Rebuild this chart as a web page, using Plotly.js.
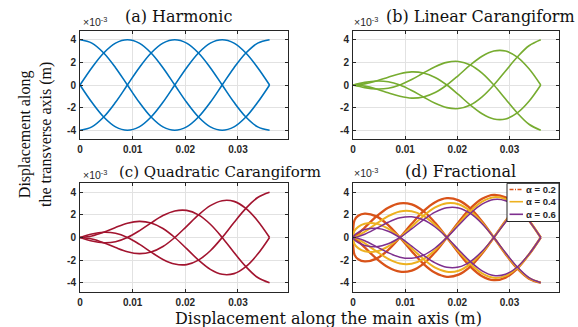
<!DOCTYPE html>
<html><head><meta charset="utf-8">
<script src="https://cdn.plot.ly/plotly-3.0.1.min.js"></script>
<style>html,body{margin:0;padding:0;background:#fff}#chart{width:578px;height:327px}</style>
</head><body><div id="chart"></div>
<script>
// x positions along the main axis (m)
const xMain = [0,0.00225,0.0045,0.00675,0.009,0.01125,0.0135,0.01575,0.018,0.02025,0.0225,0.02475,0.027,0.02925,0.0315,0.03375,0.036];
const xFrac = [0,0.0003,0.001,0.00225,0.0045,0.00675,0.009,0.01125,0.0135,0.01575,0.018,0.02025,0.0225,0.02475,0.027,0.02925,0.0315,0.03375,0.036];

// transverse displacement, in units of 1e-3 m
// (a) Harmonic
const harmonicA = [4,3.70,2.83,1.53,0,-1.53,-2.83,-3.70,-4,-3.70,-2.83,-1.53,0,1.53,2.83,3.70,4];
const harmonicB = [0,1.53,2.83,3.70,4,3.70,2.83,1.53,0,-1.53,-2.83,-3.70,-4,-3.70,-2.83,-1.53,0];
const harmonicC = [0,-1.53,-2.83,-3.70,-4,-3.70,-2.83,-1.53,0,1.53,2.83,3.70,4,3.70,2.83,1.53,0];
const harmonicD = [-4,-3.70,-2.83,-1.53,0,1.53,2.83,3.70,4,3.70,2.83,1.53,0,-1.53,-2.83,-3.70,-4];
// (b) Linear Carangiform
const linearA = [0,0.23,0.35,0.29,0,-0.48,-1.06,-1.62,-2,-2.08,-1.77,-1.05,0,1.24,2.47,3.47,4];
const linearB = [0,0.10,0.35,0.69,1,1.16,1.06,0.67,0,-0.86,-1.77,-2.54,-3,-3.00,-2.47,-1.44,0];
const linearC = [0,-0.10,-0.35,-0.69,-1,-1.16,-1.06,-0.67,0,0.86,1.77,2.54,3,3.00,2.47,1.44,0];
const linearD = [0,-0.23,-0.35,-0.29,0,0.48,1.06,1.62,2,2.08,1.77,1.05,0,-1.24,-2.47,-3.47,-4];
// (c) Quadratic Carangiform
const quadA = [0,0.31,0.46,0.37,0,-0.59,-1.29,-1.94,-2.35,-2.40,-2.00,-1.17,0,1.33,2.58,3.54,4];
const quadB = [0,0.13,0.46,0.89,1.26,1.43,1.29,0.80,0,-0.99,-2.00,-2.82,-3.26,-3.20,-2.58,-1.47,0];
const quadC = [0,-0.13,-0.46,-0.89,-1.26,-1.43,-1.29,-0.80,0,0.99,2.00,2.82,3.26,3.20,2.58,1.47,0];
const quadD = [0,-0.31,-0.46,-0.37,0,0.59,1.29,1.94,2.35,2.40,2.00,1.17,0,-1.33,-2.58,-3.54,-4];
// (d) Fractional, alpha = 0.2
const frac02A = [0,1.54,1.92,2.12,1.87,1.10,0,-1.21,-2.33,-3.13,-3.48,-3.29,-2.58,-1.42,0,1.47,2.75,3.65,4];
const frac02B = [0,0.08,0.34,0.88,1.87,2.64,3.03,2.93,2.33,1.30,0,-1.36,-2.58,-3.43,-3.78,-3.55,-2.75,-1.51,0];
const frac02C = [0,-0.08,-0.34,-0.88,-1.87,-2.64,-3.03,-2.93,-2.33,-1.30,0,1.36,2.58,3.43,3.78,3.55,2.75,1.51,0];
const frac02D = [0,-1.54,-1.92,-2.12,-1.87,-1.10,0,1.21,2.33,3.13,3.48,3.29,2.58,1.42,0,-1.47,-2.75,-3.65,-4];
// alpha = 0.4
const frac04A = [0,0.59,0.94,1.22,1.23,0.78,0,-0.96,-1.91,-2.66,-3.03,-2.94,-2.34,-1.32,0,1.41,2.68,3.60,4];
const frac04B = [0,0.03,0.17,0.51,1.23,1.89,2.30,2.32,1.91,1.10,0,-1.22,-2.34,-3.18,-3.57,-3.40,-2.68,-1.49,0];
const frac04C = [0,-0.03,-0.17,-0.51,-1.23,-1.89,-2.30,-2.32,-1.91,-1.10,0,1.22,2.34,3.18,3.57,3.40,2.68,1.49,0];
const frac04D = [0,-0.59,-0.94,-1.22,-1.23,-0.78,0,0.96,1.91,2.66,3.03,2.94,2.34,1.32,0,-1.41,-2.68,-3.60,-4];
// alpha = 0.6
const frac06A = [0,0.23,0.46,0.70,0.81,0.56,0,-0.76,-1.57,-2.25,-2.64,-2.62,-2.13,-1.22,0,1.35,2.61,3.56,4];
const frac06B = [0,0.01,0.08,0.29,0.81,1.35,1.74,1.84,1.57,0.93,0,-1.08,-2.13,-2.95,-3.37,-3.26,-2.61,-1.47,0];
const frac06C = [0,-0.01,-0.08,-0.29,-0.81,-1.35,-1.74,-1.84,-1.57,-0.93,0,1.08,2.13,2.95,3.37,3.26,2.61,1.47,0];
const frac06D = [0,-0.23,-0.46,-0.70,-0.81,-0.56,0,0.76,1.57,2.25,2.64,2.62,2.13,1.22,0,-1.35,-2.61,-3.56,-4];

const panelTitles = ['(a) Harmonic','(b) Linear Carangiform','(c) Quadratic Carangiform','(d) Fractional'];
const legendLabels = ['\u03b1 = 0.2','\u03b1 = 0.4','\u03b1 = 0.6'];
const xTickVals = [0,0.01,0.02,0.03];
const xTickText = ['0','0.01','0.02','0.03'];
const yTickVals = [-4,-2,0,2,4];
const yTickText = ['-4','-2','0','2','4'];

const cBlue='#0072BD', cGreen='#77AC30', cRed='#A2142F', cOrange='#D95319', cYellow='#EDB120', cPurple='#7E2F8E';

function tr(x,y,n,color,w,name){
  return {x:x,y:y,type:'scatter',mode:'lines',xaxis:'x'+(n===1?'':n),yaxis:'y'+(n===1?'':n),
    line:{color:color,width:w,shape:'spline',smoothing:1},showlegend:false,hoverinfo:'skip',name:name||''};
}
const data = [];
[harmonicA,harmonicB,harmonicC,harmonicD].forEach(s=>data.push(tr(xMain,s,1,cBlue,1.6)));
[linearA,linearB,linearC,linearD].forEach(s=>data.push(tr(xMain,s,2,cGreen,1.6)));
[quadA,quadB,quadC,quadD].forEach(s=>data.push(tr(xMain,s,3,cRed,1.6)));
[frac02A,frac02B,frac02C,frac02D].forEach(s=>data.push(tr(xFrac,s,4,cOrange,2.3,legendLabels[0])));
[frac04A,frac04B,frac04C,frac04D].forEach(s=>data.push(tr(xFrac,s,4,cYellow,2.0,legendLabels[1])));
[frac06A,frac06B,frac06C,frac06D].forEach(s=>data.push(tr(xFrac,s,4,cPurple,1.5,legendLabels[2])));

const W=578,H=327;
const px=v=>v/W, py=v=>1-v/H;
const tickFont={family:'Liberation Sans, Arial, sans-serif',size:10,color:'#262626',weight:'bold'};
function xa(dom,anchor){
  return {domain:dom,anchor:anchor,range:[0,0.0395],tickvals:xTickVals,ticktext:xTickText,
    showline:true,mirror:'ticks',linecolor:'#262626',linewidth:1,ticks:'inside',ticklen:3,tickcolor:'#262626',
    showgrid:true,gridcolor:'#e2e2e2',gridwidth:1,zeroline:false,tickfont:tickFont,ticklabelstandoff:1,fixedrange:true};
}
function ya(dom,anchor){
  return {domain:dom,anchor:anchor,range:[-4.8,4.8],tickvals:yTickVals,ticktext:yTickText,
    showline:true,mirror:'ticks',linecolor:'#262626',linewidth:1,ticks:'inside',ticklen:3,tickcolor:'#262626',
    showgrid:true,gridcolor:'#e2e2e2',gridwidth:1,zeroline:false,tickfont:tickFont,ticklabelstandoff:1,fixedrange:true};
}
const colL=[px(80),px(288)], colR=[px(353),px(559)];
const rowT=[py(139.3),py(30.7)], rowB=[py(291.7),py(183.3)];

const serif='DejaVu Serif, serif';
const titleFont={family:serif,size:16,color:'#111111'};
const titleFontC={family:serif,size:15,color:'#111111'};
const expFont={family:'Liberation Sans, Arial, sans-serif',size:10.5,color:'#262626'};
const annotations=[
  {text:panelTitles[0],x:px(178),y:py(17),xref:'paper',yref:'paper',xanchor:'center',yanchor:'middle',showarrow:false,font:titleFont},
  {text:panelTitles[1],x:px(480),y:py(17),xref:'paper',yref:'paper',xanchor:'center',yanchor:'middle',showarrow:false,font:titleFont},
  {text:panelTitles[2],x:px(117),y:py(171.5),xref:'paper',yref:'paper',xanchor:'left',yanchor:'middle',showarrow:false,font:titleFontC},
  {text:panelTitles[3],x:px(460),y:py(171.5),xref:'paper',yref:'paper',xanchor:'center',yanchor:'middle',showarrow:false,font:titleFont},
  {text:'\u00d710<sup>-3</sup>',x:px(81),y:py(22),xref:'paper',yref:'paper',xanchor:'left',yanchor:'middle',showarrow:false,font:expFont},
  {text:'\u00d710<sup>-3</sup>',x:px(352),y:py(21),xref:'paper',yref:'paper',xanchor:'left',yanchor:'middle',showarrow:false,font:expFont},
  {text:'\u00d710<sup>-3</sup>',x:px(81),y:py(174),xref:'paper',yref:'paper',xanchor:'left',yanchor:'middle',showarrow:false,font:expFont},
  {text:'\u00d710<sup>-3</sup>',x:px(352),y:py(172),xref:'paper',yref:'paper',xanchor:'left',yanchor:'middle',showarrow:false,font:expFont},
  {text:'Displacement along<br>the transverse axis (m)',x:px(35),y:py(135),xref:'paper',yref:'paper',xanchor:'center',yanchor:'middle',
    textangle:-90,showarrow:false,font:{family:'Liberation Serif, serif',size:16,color:'#111111'}},
  {text:'Displacement along the main axis (m)',x:px(328),y:py(318.5),xref:'paper',yref:'paper',xanchor:'center',yanchor:'middle',
    showarrow:false,font:{family:serif,size:16,color:'#111111'}}
];
// legend (manual, to match the compact MATLAB legend)
const legY=[189.5,201.7,214.3], legC=[cOrange,cYellow,cPurple];
const shapes=[{type:'rect',xref:'paper',yref:'paper',x0:px(507),x1:px(559),y0:py(221.5),y1:py(183.3),fillcolor:'#ffffff',line:{color:'#262626',width:1},layer:'above'}];
legendLabels.forEach((lab,i)=>{
  shapes.push({type:'line',xref:'paper',yref:'paper',x0:px(509.5),x1:px(523),y0:py(legY[i]),y1:py(legY[i]),
    line:{color:legC[i],width:1.6,dash:i===0?'4px,1.5px,1px,1.5px':'solid'},layer:'above'});
  annotations.push({text:lab,x:px(524),y:py(legY[i]),xref:'paper',yref:'paper',xanchor:'left',yanchor:'middle',showarrow:false,
    font:{family:'Liberation Sans, Arial, sans-serif',size:9.5,color:'#262626',weight:'bold'}});
});

const layout={width:W,height:H,margin:{l:0,r:0,t:0,b:0},paper_bgcolor:'#fff',plot_bgcolor:'#fff',showlegend:false,
  xaxis:xa(colL,'y'),yaxis:ya(rowT,'x'),
  xaxis2:xa(colR,'y2'),yaxis2:ya(rowT,'x2'),
  xaxis3:xa(colL,'y3'),yaxis3:ya(rowB,'x3'),
  xaxis4:xa(colR,'y4'),yaxis4:ya(rowB,'x4'),
  annotations:annotations,shapes:shapes};
Plotly.newPlot('chart',data,layout,{displayModeBar:false,staticPlot:true});
</script></body></html>
